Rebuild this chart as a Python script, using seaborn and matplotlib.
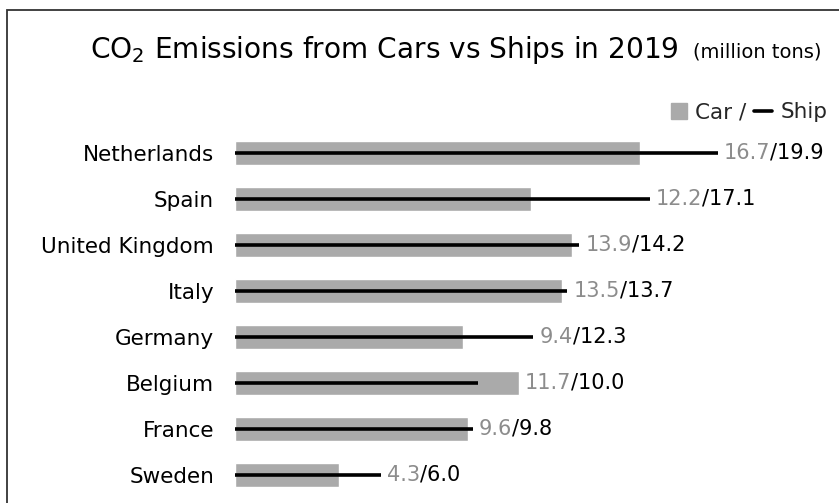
import matplotlib
matplotlib.use("Agg")
import matplotlib.pyplot as plt
import seaborn as sns
import pandas as pd
from matplotlib.patches import Rectangle
from matplotlib.lines import Line2D

# data
countries = ["Netherlands", "Spain", "United Kingdom", "Italy",
             "Germany", "Belgium", "France", "Sweden"]
car = [16.7, 12.2, 13.9, 13.5, 9.4, 11.7, 9.6, 4.3]
ship = [19.9, 17.1, 14.2, 13.7, 12.3, 10.0, 9.8, 6.0]

sns.set_theme(style="white")
plt.rcParams["font.family"] = ["DejaVu Sans"]
plt.rcParams["mathtext.fontset"] = "dejavusans"

W, H = 839, 503
fig = plt.figure(figsize=(W / 100, H / 100), dpi=100)
fig.patch.set_facecolor("white")

# outer frame (cut off at right and bottom like the reference)
fig.patches.append(Rectangle((7 / W, -0.2), 2, 1.2 - 10 / H, transform=fig.transFigure,
                             fill=False, edgecolor="#333333", lw=1.3, clip_on=False))

ax = fig.add_axes([235 / W, 5 / H, 600 / W, 368.3 / H])
df = pd.DataFrame({"country": countries, "car": car, "ship": ship})

sns.barplot(data=df, x="car", y="country", orient="h", color="#aaaaaa",
            saturation=1, width=0.53, ax=ax)
ax.hlines(range(len(df)), 0, df["ship"], color="black", lw=2.6)

ppu = 24.25  # pixels per unit
ax.set_xlim(0, 600 / ppu)
ax.set_ylim(len(df) - 0.5, -0.5)
ax.set_xlabel("")
ax.set_ylabel("")
ax.set_xticks([])
sns.despine(ax=ax, left=True, bottom=True)
ax.tick_params(axis="y", length=0, pad=15, labelsize=15.5, labelcolor="black")

for i, (c, s) in enumerate(zip(df["car"], df["ship"])):
    t = ax.text(max(c, s) + 6 / ppu, i, f"{c:.1f}", color="#8c8c8c",
                fontsize=15, va="center", ha="left")
    ax.annotate(f"/{s:.1f}", xy=(1, 0), xycoords=t, va="bottom", ha="left",
                fontsize=15, color="black")

# title
title = fig.text(90 / W, 1 - 58 / H, r"CO$_2$ Emissions from Cars vs Ships in 2019",
                 fontsize=20.2, va="baseline", ha="left", color="black")
fig.canvas.draw()
bb = title.get_window_extent()
fig.text((bb.x1 + 14) / W, 1 - 58 / H, "(million tons)", fontsize=14,
         va="baseline", ha="left", color="black")

# legend: ■ Car / — Ship
fig.patches.append(Rectangle((671 / W, 1 - 119 / H), 16 / W, 16 / H,
                             transform=fig.transFigure, color="#aaaaaa"))
t1 = fig.text(695 / W, 1 - 118 / H, "Car /", fontsize=15.5, va="baseline", ha="left")
fig.canvas.draw()
b1 = t1.get_window_extent()
lx0 = b1.x1 + 8
fig.lines.append(Line2D([lx0 / W, (lx0 + 18) / W], [1 - 111 / H, 1 - 111 / H],
                        transform=fig.transFigure, color="black", lw=2.6))
fig.text((lx0 + 26) / W, 1 - 118 / H, "Ship", fontsize=15.5, va="baseline", ha="left")

fig.savefig("out.png", dpi=100, facecolor="white")
